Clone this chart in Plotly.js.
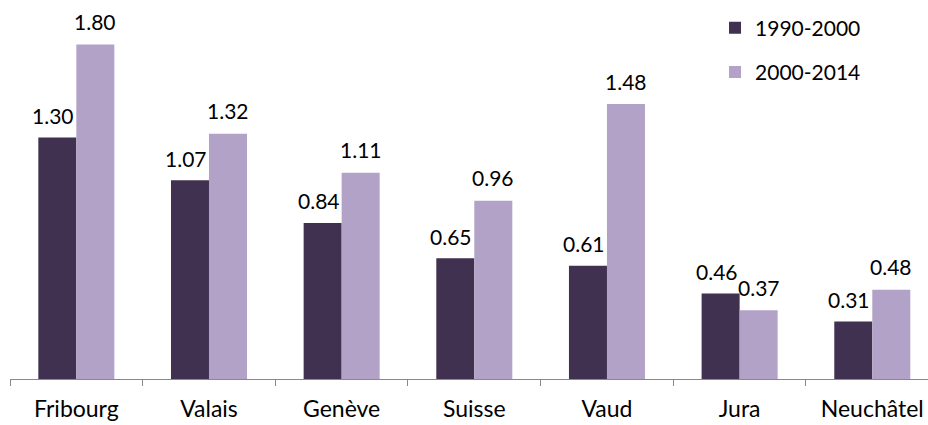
<!DOCTYPE html>
<html>
<head>
<meta charset="utf-8">
<script src="https://cdn.plot.ly/plotly-3.0.1.min.js"></script>
<style>html,body{margin:0;padding:0;background:#fff;}#chart{width:928px;height:425px;}</style>
</head>
<body>
<div id="chart"></div>
<script>
const categories = ["Fribourg", "Valais", "Genève", "Suisse", "Vaud", "Jura", "Neuchâtel"];
const series1Name = "1990-2000";
const series1 = [1.30, 1.07, 0.84, 0.65, 0.61, 0.46, 0.31];
const series2Name = "2000-2014";
const series2 = [1.80, 1.32, 1.11, 0.96, 1.48, 0.37, 0.48];

const FONT = "Lato, 'Liberation Sans', sans-serif";
const C1 = "#403151", C2 = "#B3A2C7";

const traces = [
  {type: "bar", name: series1Name, x: categories, y: series1, marker: {color: C1},
   legendgroup: "a", hoverinfo: "none"},
  {type: "bar", name: series2Name, x: categories, y: series2, marker: {color: C2},
   legendgroup: "b", hoverinfo: "none"}
];

const annotations = [];
categories.forEach((c, i) => {
  annotations.push({x: c, y: series1[i], text: series1[i].toFixed(2), showarrow: false,
    xshift: -23, yshift: 22, yanchor: "middle", font: {family: FONT, size: 21, color: "#000"}});
  annotations.push({x: c, y: series2[i], text: series2[i].toFixed(2), showarrow: false,
    xshift: 19, yshift: 23, yanchor: "middle", font: {family: FONT, size: 21, color: "#000"}});
});

const layout = {
  width: 928, height: 425,
  margin: {l: 10, r: 0, t: 0, b: 46},
  paper_bgcolor: "#fff", plot_bgcolor: "#fff",
  barmode: "group", bargap: 0.427, bargroupgap: 0,
  font: {family: FONT, size: 21, color: "#000"},
  xaxis: {type: "category", range: [-0.5, 6.42], showline: true, linecolor: "#898989",
    linewidth: 1, ticks: "outside", tickson: "boundaries", ticklen: 6, tickcolor: "#898989",
    ticklabelstandoff: 9,
    showgrid: false, zeroline: false, tickfont: {family: FONT, size: 23, color: "#000"},
    fixedrange: true},
  yaxis: {range: [0, 2.04], visible: false, showgrid: false, zeroline: false, fixedrange: true},
  showlegend: true,
  legend: {x: 0.768, y: 0.98, xanchor: "left", yanchor: "top", traceorder: "grouped",
    tracegroupgap: 14, font: {family: FONT, size: 21, color: "#000"}, bgcolor: "rgba(0,0,0,0)"},
  annotations: annotations
};

Plotly.newPlot("chart", traces, layout, {displayModeBar: false, staticPlot: true});
</script>
</body>
</html>
